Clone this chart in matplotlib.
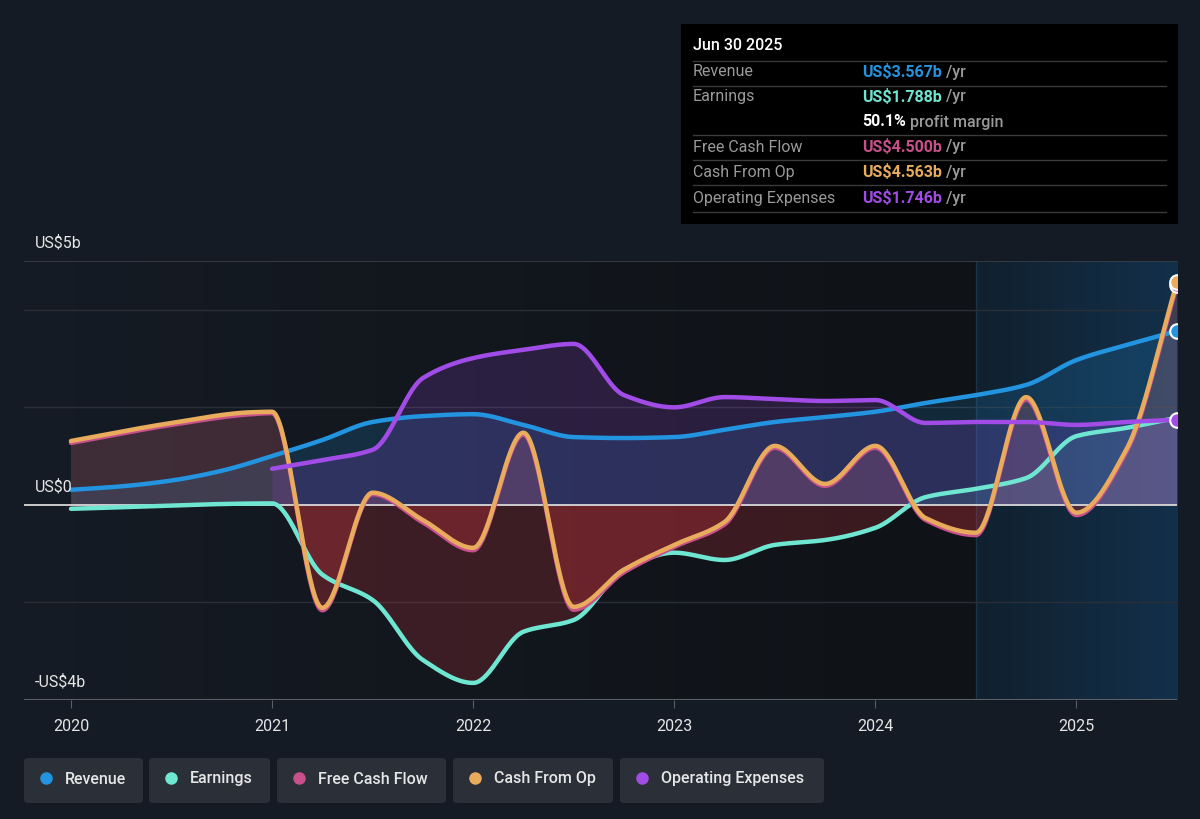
import numpy as np
import matplotlib
matplotlib.use("Agg")
import matplotlib.pyplot as plt
from matplotlib.patches import FancyBboxPatch, Rectangle

plt.rcParams['font.family'] = ['Roboto', 'DejaVu Sans']

# ------------------------------------------------------------
# Data (US$ billions, trailing twelve months)
# ------------------------------------------------------------
rev_x = [2020, 2020.25, 2020.5, 2020.75, 2021, 2021.25, 2021.5, 2021.75, 2022, 2022.25,
         2022.5, 2022.75, 2023, 2023.25, 2023.5, 2023.75, 2024, 2024.25, 2024.5, 2024.75,
         2025, 2025.25, 2025.5]
revenue = [0.31, 0.38, 0.50, 0.70, 1.00, 1.33, 1.70, 1.82, 1.86, 1.64,
           1.39, 1.37, 1.39, 1.54, 1.70, 1.80, 1.91, 2.09, 2.25, 2.46,
           2.97, 3.28, 3.567]

earn_x = [2020, 2021, 2021.25, 2021.5, 2021.75, 2022, 2022.25, 2022.5, 2022.75, 2023,
          2023.25, 2023.5, 2023.75, 2024, 2024.25, 2024.5, 2024.75, 2025, 2025.25, 2025.5]
earnings = [-0.08, 0.03, -1.43, -1.95, -3.18, -3.65, -2.60, -2.36, -1.33, -0.98,
            -1.13, -0.82, -0.72, -0.47, 0.16, 0.33, 0.55, 1.41, 1.58, 1.788]

cash_x = [2020, 2020.5, 2020.9, 2021, 2021.25, 2021.5, 2021.75, 2022, 2022.25, 2022.5,
          2022.75, 2023, 2023.25, 2023.5, 2023.75, 2024, 2024.25, 2024.5, 2024.75, 2025,
          2025.25, 2025.5]
cash_from_op = [1.31, 1.68, 1.90, 1.91, -2.11, 0.25, -0.31, -0.88, 1.48, -2.09,
                -1.33, -0.82, -0.35, 1.21, 0.43, 1.21, -0.27, -0.57, 2.21, -0.16,
                1.15, 4.563]
free_cash_flow = [1.27, 1.64, 1.86, 1.88, -2.16, 0.22, -0.36, -0.93, 1.44, -2.15,
                  -1.38, -0.86, -0.40, 1.17, 0.39, 1.17, -0.31, -0.62, 2.16, -0.21,
                  1.10, 4.500]

opex_x = [2021, 2021.25, 2021.5, 2021.75, 2022, 2022.25, 2022.5, 2022.75, 2023, 2023.25,
          2023.5, 2023.75, 2024, 2024.25, 2024.5, 2024.75, 2025, 2025.25, 2025.5]
opex = [0.74, 0.92, 1.13, 2.60, 3.01, 3.18, 3.30, 2.25, 2.00, 2.21,
        2.17, 2.13, 2.15, 1.68, 1.70, 1.70, 1.64, 1.70, 1.746]

years = [2020, 2021, 2022, 2023, 2024, 2025]

BG = "#151b24"
C_REV = "#2394df"
C_EARN = "#6ee6d2"
C_FCF = "#c8508c"
C_CFO = "#e8ac5c"
C_OPEX = "#a24ce8"
C_NEG = "#be323a"


def monotone(xs, ys, n=40):
    """Monotone cubic curve through the points (like d3 curveMonotoneX)."""
    x = np.asarray(xs, float)
    y = np.asarray(ys, float)
    h = np.diff(x)
    d = np.diff(y) / h
    m = np.zeros_like(y)
    m[0], m[-1] = d[0], d[-1]
    for i in range(1, len(y) - 1):
        if d[i - 1] * d[i] <= 0:
            m[i] = 0
        else:
            w1 = 2 * h[i] + h[i - 1]
            w2 = h[i] + 2 * h[i - 1]
            m[i] = (w1 + w2) / (w1 / d[i - 1] + w2 / d[i])
    out_x, out_y = [], []
    for i in range(len(x) - 1):
        t = np.linspace(0, 1, n, endpoint=False)
        h00 = 2 * t**3 - 3 * t**2 + 1
        h10 = t**3 - 2 * t**2 + t
        h01 = -2 * t**3 + 3 * t**2
        h11 = t**3 - t**2
        out_x.append(x[i] + t * h[i])
        out_y.append(h00 * y[i] + h10 * h[i] * m[i] + h01 * y[i + 1] + h11 * h[i] * m[i + 1])
    out_x.append([x[-1]])
    out_y.append([y[-1]])
    return np.concatenate(out_x), np.concatenate(out_y)


fig = plt.figure(figsize=(12, 8.19), dpi=100, facecolor=BG)
ax = fig.add_axes([24 / 1200, 1 - 700 / 819, (1177 - 24) / 1200, (700 - 261) / 819])
ax.set_facecolor(BG)
xmin, xmax = 2020 - 47 / 201.2, 2025.5
ax.set_xlim(xmin, xmax)
ax.set_ylim(-4, 5)

# background shading: past region slightly darker, last year highlighted
grad = np.linspace(0, 1, 256).reshape(1, -1)
ax.imshow(grad, extent=[2020, 2024.5, -4, 5], aspect='auto', zorder=0,
          cmap=matplotlib.colors.LinearSegmentedColormap.from_list("p", [BG, "#0f1216"]))
ax.imshow(grad, extent=[2024.5, 2025.5, -4, 5], aspect='auto', zorder=0,
          cmap=matplotlib.colors.LinearSegmentedColormap.from_list("h", ["#10202e", "#13304a"]))
ax.axvline(2024.5, color="#1d3346", lw=1, zorder=0.5)

# grid
for v in [4, 2, -2]:
    ax.axhline(v, color="#2a2f37", lw=1, zorder=1)
ax.axhline(5, color="#3a3f47", lw=1.2, zorder=1)
ax.axhline(-4, color="#5a5f66", lw=1.5, zorder=1)

# (x, y, line colour, positive fill alpha, negative fill alpha)
series = [
    (rev_x, revenue, C_REV, 0.18, 0.0),
    (earn_x, earnings, C_EARN, 0.12, 0.25),
    (cash_x, free_cash_flow, C_FCF, 0.16, 0.25),
    (cash_x, cash_from_op, C_CFO, 0.08, 0.15),
    (opex_x, opex, C_OPEX, 0.18, 0.0),
]
for xs, ys, col, a_pos, a_neg in series:
    sx, sy = monotone(xs, ys)
    ax.fill_between(sx, sy, 0, where=sy >= 0, interpolate=True,
                    color=col, alpha=a_pos, lw=0, zorder=2)
    if a_neg > 0:
        ax.fill_between(sx, sy, 0, where=sy <= 0, interpolate=True,
                        color=C_NEG, alpha=a_neg, lw=0, zorder=2)

ax.axhline(0, color="#d8d8d8", lw=1.3, zorder=3)

for xs, ys, col, a_pos, a_neg in series:
    sx, sy = monotone(xs, ys)
    ax.plot(sx, sy, color=col, lw=3.2, solid_capstyle='round', zorder=4)

# end markers
for ys, col in [(revenue, C_REV), (free_cash_flow, C_FCF), (cash_from_op, C_CFO), (opex, C_OPEX)]:
    ax.scatter([2025.5], [ys[-1]], s=110, color=col, edgecolor="white", lw=1.5, zorder=6)

for s in ax.spines.values():
    s.set_visible(False)
ax.set_yticks([])
ax.set_xticks(years)
ax.set_xticklabels([str(y) for y in years], color="#e6e6e6", fontsize=11.5)
ax.tick_params(axis='x', length=6, color="#5a5f66", pad=8)

# y labels
fig.text(35 / 1200, 1 - 243 / 819, "US$5b", color="#e6e6e6", fontsize=11.5, va='center')
fig.text(35 / 1200, 1 - 487 / 819, "US$0", color="#e6e6e6", fontsize=11.5, va='center')
fig.text(35 / 1200, 1 - 682 / 819, "-US$4b", color="#e6e6e6", fontsize=11.5, va='center')

# tooltip box
fig.patches.append(Rectangle((681 / 1200, 1 - 224 / 819), 497 / 1200, 200 / 819,
                             transform=fig.transFigure, facecolor="black", edgecolor="none"))
fig.text(693 / 1200, 1 - 45 / 819, "Jun 30 2025", color="white", fontsize=11.5,
         va='center', fontweight='medium')
rows = [
    ("Revenue", "US$3.567b", C_REV, " /yr", 72),
    ("Earnings", "US$1.788b", C_EARN, " /yr", 97),
    ("", "50.1%", "white", " profit margin", 122),
    ("Free Cash Flow", "US$4.500b", C_FCF, " /yr", 147),
    ("Cash From Op", "US$4.563b", C_CFO, " /yr", 172),
    ("Operating Expenses", "US$1.746b", C_OPEX, " /yr", 198),
]
for ly in [61, 86, 135, 160, 185, 212]:
    fig.add_artist(plt.Line2D([693 / 1200, 1166 / 1200], [1 - ly / 819] * 2,
                              color="#3a3a3a", lw=1, transform=fig.transFigure))
for label, val, col, suffix, ry in rows:
    fig.text(693 / 1200, 1 - ry / 819, label, color="#9a9a9a", fontsize=11.5, va='center')
    t = fig.text(862 / 1200, 1 - ry / 819, val, color=col, fontsize=11.5, va='center',
                 fontweight='bold')
    fig.canvas.draw()
    bb = t.get_window_extent()
    fig.text(bb.x1 / 1200, 1 - ry / 819, suffix, color="#9a9a9a", fontsize=11.5, va='center',
             fontweight='medium')

# legend pills
legend = [("Revenue", C_REV, 24, 143), ("Earnings", C_EARN, 149, 270),
          ("Free Cash Flow", C_FCF, 277, 446), ("Cash From Op", C_CFO, 453, 613),
          ("Operating Expenses", C_OPEX, 620, 824)]
for name, col, x0, x1 in legend:
    fig.patches.append(FancyBboxPatch((x0 / 1200, 1 - 803 / 819), (x1 - x0) / 1200, 45 / 819,
                                      boxstyle="round,pad=0,rounding_size=0.004",
                                      transform=fig.transFigure, facecolor="#2a2f38",
                                      edgecolor="none"))
    fig.add_artist(plt.Line2D([(x0 + 22) / 1200], [1 - 778 / 819], marker='o', ms=8,
                              color=col, transform=fig.transFigure))
    fig.text((x0 + 41) / 1200, 1 - 779 / 819, name, color="#e6e6e6", fontsize=11.5,
             va='center', fontweight='medium')

fig.savefig("out.png", dpi=100, facecolor=BG)
